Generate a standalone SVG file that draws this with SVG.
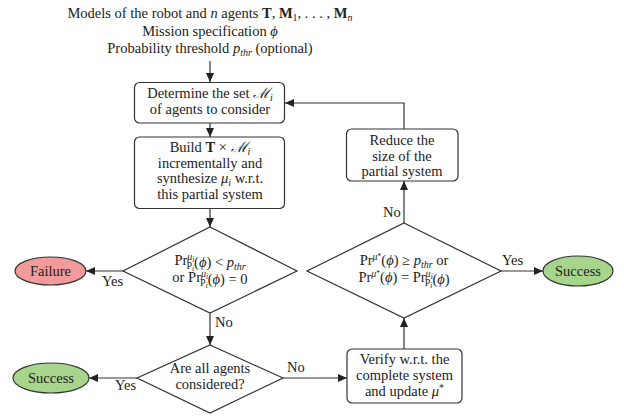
<svg xmlns="http://www.w3.org/2000/svg" width="624" height="416" viewBox="0 0 624 416">
<style>
.t{font-family:"Liberation Serif","DejaVu Serif",serif;font-size:14.5px;fill:#222;text-anchor:middle}
.l{font-family:"Liberation Serif","DejaVu Serif",serif;font-size:14.5px;fill:#222}
.b{font-weight:bold}
.i{font-style:italic}
.s{font-size:10px}
.ss{font-size:7.5px}
.cal{font-family:"DejaVu Serif",serif;font-style:italic}
.box{fill:#fff;stroke:#333;stroke-width:1.2}
.red{fill:#f39a9a;stroke:#333;stroke-width:1.2}
.green{fill:#a8d58c;stroke:#333;stroke-width:1.2}
.c{fill:none;stroke:#333;stroke-width:1.2;marker-end:url(#ah)}
</style>
<defs>
<marker id="ah" markerUnits="userSpaceOnUse" markerWidth="10" markerHeight="8" refX="9" refY="4" orient="auto">
<path d="M0,0 L9,4 L0,8 z" fill="#222"/>
</marker>
</defs>

<g id="inputs">
<text x="210" y="18" class="t">Models of the robot and <tspan class="i">n</tspan> agents <tspan class="b">T</tspan>, <tspan class="b">M</tspan><tspan class="s" dy="3">1</tspan><tspan dy="-3">, . . . , </tspan><tspan class="b">M</tspan><tspan class="s i" dy="3">n</tspan></text>
<text x="210" y="36" class="t">Mission specification <tspan class="i">ϕ</tspan></text>
<text x="210" y="53" class="t">Probability threshold <tspan class="i">p</tspan><tspan class="s i" dy="3">thr</tspan><tspan dy="-3"> (optional)</tspan></text>
</g>

<g id="connectors">
<path class="c" d="M210,61 V82"/>
<path class="c" d="M210,123 V137"/>
<path class="c" d="M210,208 V227"/>
<path class="c" d="M123,271 H86"/>
<path class="c" d="M210,313 V345"/>
<path class="c" d="M137,378 H89"/>
<path class="c" d="M283,378 H347"/>
<path class="c" d="M404,349 V318"/>
<path class="c" d="M404,223 V181"/>
<path class="c" d="M404,129 V103 H285"/>
<path class="c" d="M501,271 H543"/>
<text x="102" y="286" class="l">Yes</text>
<text x="215" y="327" class="l">No</text>
<text x="115" y="390" class="l">Yes</text>
<text x="287" y="372" class="l">No</text>
<text x="383" y="217" class="l">No</text>
<text x="502" y="265" class="l">Yes</text>
</g>

<g id="determine">
<rect class="box" x="134.5" y="82.5" width="150" height="40.5" rx="5"/>
<text x="210" y="98" class="t">Determine the set <tspan class="cal">ℳ</tspan><tspan class="s i" dy="3">i</tspan></text>
<text x="210" y="114" class="t">of agents to consider</text>
</g>

<g id="build">
<rect class="box" x="134.5" y="137" width="150" height="71.5" rx="5"/>
<text x="210" y="152" class="t">Build <tspan class="b">T</tspan> × <tspan class="cal">ℳ</tspan><tspan class="s i" dy="3">i</tspan></text>
<text x="210" y="167.5" class="t">incrementally and</text>
<text x="210" y="183" class="t">synthesize <tspan class="i">μ</tspan><tspan class="s i" dy="3">i</tspan><tspan dy="-3"> w.r.t.</tspan></text>
<text x="210" y="198.5" class="t">this partial system</text>
</g>

<g id="check-threshold">
<path class="box" d="M210,227 L297,271 L210,313 L123,271 Z"/>
<text x="210" y="265" class="t">Pr<tspan class="s i" dy="-5">μ</tspan><tspan class="ss i" dy="2">i</tspan><tspan class="s" dx="-8" dy="7">P</tspan><tspan class="ss i" dy="2">i</tspan><tspan dy="-4">(<tspan class="i">ϕ</tspan>) &lt; </tspan><tspan class="i">p</tspan><tspan class="s i" dy="3">thr</tspan></text>
<text x="210" y="282" class="t">or Pr<tspan class="s i" dy="-5">μ</tspan><tspan class="ss i" dy="2">i</tspan><tspan class="s" dx="-8" dy="7">P</tspan><tspan class="ss i" dy="2">i</tspan><tspan dy="-4">(<tspan class="i">ϕ</tspan>) = 0</tspan></text>
</g>

<g id="failure">
<ellipse class="red" cx="50.5" cy="271" rx="35.5" ry="14"/>
<text x="50.5" y="276" class="t">Failure</text>
</g>

<g id="all-agents">
<path class="box" d="M210,345 L283,378 L210,413 L137,378 Z"/>
<text x="210" y="373" class="t">Are all agents</text>
<text x="210" y="389" class="t">considered?</text>
</g>

<g id="success-left">
<ellipse class="green" cx="51" cy="378" rx="38" ry="15"/>
<text x="51" y="383" class="t">Success</text>
</g>

<g id="verify">
<rect class="box" x="347" y="349" width="115" height="54" rx="5"/>
<text x="404.5" y="364" class="t">Verify w.r.t. the</text>
<text x="404.5" y="380" class="t">complete system</text>
<text x="404.5" y="396" class="t">and update <tspan class="i">μ</tspan><tspan class="s" dy="-5">*</tspan></text>
</g>

<g id="check-complete">
<path class="box" d="M404,223 L501,271 L404,318 L307,271 Z"/>
<text x="404" y="265" class="t">Pr<tspan class="s i" dy="-5">μ</tspan><tspan class="ss" dy="-1">*</tspan><tspan dy="6">(<tspan class="i">ϕ</tspan>) ≥ </tspan><tspan class="i">p</tspan><tspan class="s i" dy="3">thr</tspan><tspan dy="-3"> or</tspan></text>
<text x="404" y="282" class="t">Pr<tspan class="s i" dy="-5">μ</tspan><tspan class="ss" dy="-1">*</tspan><tspan dy="6">(<tspan class="i">ϕ</tspan>) = Pr</tspan><tspan class="s i" dy="-5">μ</tspan><tspan class="ss i" dy="2">i</tspan><tspan class="s" dx="-8" dy="7">P</tspan><tspan class="ss i" dy="2">i</tspan><tspan dy="-4">(<tspan class="i">ϕ</tspan>)</tspan></text>
</g>

<g id="reduce">
<rect class="box" x="346.5" y="129" width="111.5" height="52" rx="5"/>
<text x="402" y="145" class="t">Reduce the</text>
<text x="402" y="160.5" class="t">size of the</text>
<text x="402" y="176" class="t">partial system</text>
</g>

<g id="success-right">
<ellipse class="green" cx="578" cy="271" rx="35" ry="15"/>
<text x="578" y="276" class="t">Success</text>
</g>
</svg>
